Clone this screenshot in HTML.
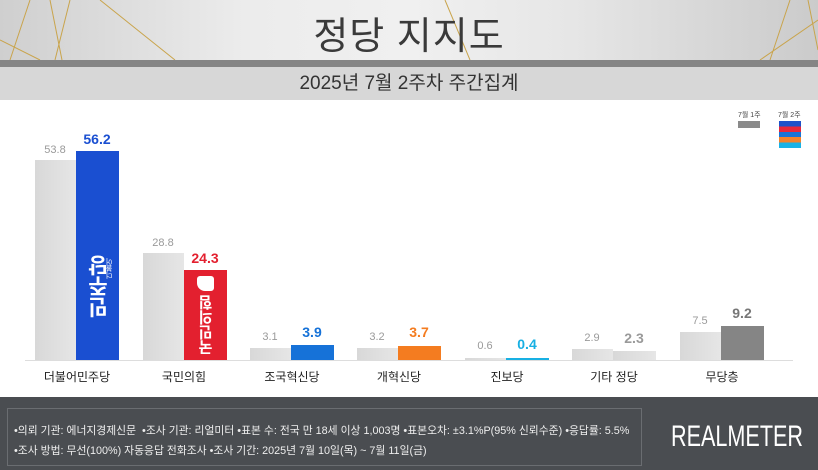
<!DOCTYPE html>
<html><head><meta charset="utf-8"><style>
*{margin:0;padding:0;box-sizing:border-box}
body{width:818px;height:470px;overflow:hidden;position:relative;background:#fff;font-family:"Liberation Sans","Noto Sans CJK KR",sans-serif}
.a{position:absolute}
.hdr{left:0;top:0;width:818px;height:60px;background:linear-gradient(90deg,#cfcfcf,#ececec 30%,#f0f0f0 50%,#e6e6e6 70%,#cbcbcb)}
.t1{left:0;width:818px;top:5px;text-align:center;font-size:38px;color:#3a3a3a;letter-spacing:1px}
.bar{left:0;top:60px;width:818px;height:7px;background:#858585}
.sub{left:0;top:67px;width:818px;height:33px;background:#d7d7d7;text-align:center;font-size:19px;line-height:33px;color:#333}
.g{background:linear-gradient(90deg,#d8d8d8,#e6e6e6)}
.v{font-size:11px;color:#9a9a9a;text-align:center;width:50px}
.c{font-size:14px;font-weight:bold;text-align:center;width:60px}
.cat{font-size:12px;color:#222;text-align:center;width:100px;top:368px}
.ft{left:0;top:397px;width:818px;height:73px;background:#4a4d51}
.box{left:7px;top:408px;width:635px;height:58px;border:1px solid #6a6d71}
.ft p{font-size:10.8px;color:#eee;position:absolute;left:14px;white-space:nowrap}
</style></head><body>
<div class="a hdr"></div>
<svg class="a" style="left:0;top:0" width="818" height="60"><g stroke="#c9a44c" stroke-width="1" fill="none"><path d="M30 0L10 60M50 0L62 60M70 0L55 60M0 40L40 60M100 0L175 60M760 60L818 20M790 0L770 60M445 0L470 60M808 0L818 50"/></g></svg>
<div class="a t1">정당 지지도</div>
<div class="a bar"></div>
<div class="a sub">2025년 7월 2주차 주간집계</div>
<div class="a" style="left:738px;top:110px;font-size:7px;color:#444">7월 1주</div>
<div class="a" style="left:738px;top:121px;width:22px;height:7px;background:#8a8a8a"></div>
<div class="a" style="left:778px;top:110px;font-size:7px;color:#444">7월 2주</div>
<div class="a" style="left:779px;top:121px;width:22px;height:27px;background:linear-gradient(#1f52c9 0 20%,#e8283a 20% 40%,#1874d6 40% 60%,#f5822a 60% 80%,#19b2e6 80%)"></div>
<div class="a" style="left:25px;top:360px;width:768px;height:1px;background:#ddd"></div>

<div class="a g" style="left:35px;top:160px;width:41px;height:200px"></div>
<div class="a v" style="left:30px;top:144px">53.8</div>
<div class="a" style="left:76px;top:151px;width:43px;height:209px;background:#1a4fd1"></div>
<div class="a c" style="left:67px;top:131px;color:#1a4fd1">56.2</div>
<div class="a" style="left:85px;top:255px;color:#fff;font-weight:bold;font-size:21px;writing-mode:vertical-rl;transform:rotate(180deg)">민주당</div>
<div class="a" style="left:105px;top:258px;color:#fff;font-size:7px;writing-mode:vertical-rl;transform:rotate(180deg)">더불어</div>
<div class="a cat" style="left:27px">더불어민주당</div>

<div class="a g" style="left:143px;top:253px;width:41px;height:107px"></div>
<div class="a v" style="left:138px;top:237px">28.8</div>
<div class="a" style="left:184px;top:270px;width:43px;height:90px;background:#e3202f"></div>
<div class="a c" style="left:175px;top:250px;color:#e3202f">24.3</div>
<div class="a" style="left:197px;top:276px;width:17px;height:15px;background:#fff;border-radius:3px 3px 3px 8px"></div>
<div class="a" style="left:196px;top:295px;color:#fff;font-weight:bold;font-size:15px;writing-mode:vertical-rl;transform:rotate(180deg)">국민의힘</div>
<div class="a cat" style="left:134px">국민의힘</div>

<div class="a g" style="left:250px;top:348px;width:41px;height:12px"></div>
<div class="a v" style="left:245px;top:331px">3.1</div>
<div class="a" style="left:291px;top:345px;width:43px;height:15px;background:#1672d8"></div>
<div class="a c" style="left:282px;top:324px;color:#1672d8">3.9</div>
<div class="a cat" style="left:242px">조국혁신당</div>

<div class="a g" style="left:357px;top:348px;width:41px;height:12px"></div>
<div class="a v" style="left:352px;top:331px">3.2</div>
<div class="a" style="left:398px;top:346px;width:43px;height:14px;background:#f47c20"></div>
<div class="a c" style="left:389px;top:324px;color:#f47c20">3.7</div>
<div class="a cat" style="left:349px">개혁신당</div>

<div class="a g" style="left:465px;top:358px;width:41px;height:2px"></div>
<div class="a v" style="left:460px;top:340px">0.6</div>
<div class="a" style="left:506px;top:358px;width:43px;height:2px;background:#18b0e3"></div>
<div class="a c" style="left:497px;top:336px;color:#18b0e3">0.4</div>
<div class="a cat" style="left:457px">진보당</div>

<div class="a g" style="left:572px;top:349px;width:41px;height:11px"></div>
<div class="a v" style="left:567px;top:332px">2.9</div>
<div class="a g" style="left:613px;top:351px;width:43px;height:9px"></div>
<div class="a c" style="left:604px;top:330px;color:#9a9a9a">2.3</div>
<div class="a cat" style="left:564px">기타 정당</div>

<div class="a g" style="left:680px;top:332px;width:41px;height:28px"></div>
<div class="a v" style="left:675px;top:315px">7.5</div>
<div class="a" style="left:721px;top:326px;width:43px;height:34px;background:#858585"></div>
<div class="a c" style="left:712px;top:305px;color:#777">9.2</div>
<div class="a cat" style="left:672px">무당층</div>

<div class="a ft"></div>
<div class="a box"></div>
<div class="a ft" style="background:none">
<p style="top:25px">•의뢰 기관: 에너지경제신문 &nbsp;•조사 기관: 리얼미터 •표본 수: 전국 만 18세 이상 1,003명 •표본오차: ±3.1%P(95% 신뢰수준) •응답률: 5.5%</p>
<p style="top:45px">•조사 방법: 무선(100%) 자동응답 전화조사 •조사 기간: 2025년 7월 10일(목) ~ 7월 11일(금)</p>
</div>
<div class="a" style="left:671px;top:420px;font-size:30px;color:#fff;transform:scaleX(0.72);transform-origin:left">REALMETER</div>
</body></html>
